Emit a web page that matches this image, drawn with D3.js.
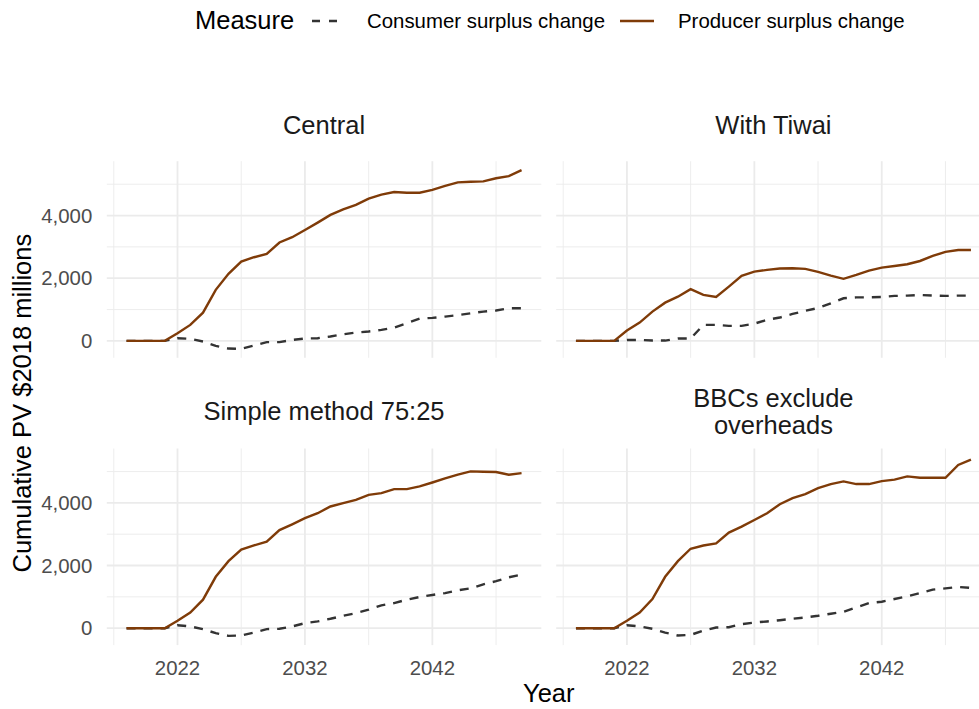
<!DOCTYPE html>
<html>
<head>
<meta charset="utf-8">
<script src="https://cdn.jsdelivr.net/npm/d3@7"></script>
<style>
  html, body { margin: 0; padding: 0; background: #ffffff; }
  svg { display: block; font-family: "Liberation Sans", Arial, sans-serif; }
</style>
</head>
<body>
<svg id="chart" width="979" height="709"></svg>
<script>
// Years shared by every scenario
const years = [2018, 2019, 2020, 2021, 2022, 2023, 2024, 2025, 2026, 2027,
               2028, 2029, 2030, 2031, 2032, 2033, 2034, 2035, 2036, 2037,
               2038, 2039, 2040, 2041, 2042, 2043, 2044, 2045, 2046, 2047,
               2048, 2049];

// Scenario (facet) titles, split into strip lines
const scenarios = ["Central", "With Tiwai", "Simple method 75:25", "BBCs exclude overheads"];
const stripLines = [["Central"], ["With Tiwai"], ["Simple method 75:25"], ["BBCs exclude", "overheads"]];

// Measures
const measures = ["Consumer surplus change", "Producer surplus change"];

// Cumulative PV, $2018 millions — consumer surplus change
const consumerCentral = [0, 0, 0, 0, 85, 65, -20, -160, -245, -255,
                         -150, -40, -40, 30, 75, 85, 140, 210, 265, 300,
                         350, 425, 565, 710, 735, 775, 820, 880, 935, 970,
                         1040, 1040];
const consumerTiwai = [0, 0, 0, 0, 30, 30, 10, 10, 75, 75,
                       510, 510, 480, 480, 550, 670, 745, 860, 960, 1050,
                       1200, 1360, 1390, 1390, 1400, 1435, 1445, 1465, 1445, 1435,
                       1445, 1445];
const consumerSimple = [0, 0, 0, 0, 95, 55, -30, -160, -245, -235,
                        -140, -30, -20, 55, 160, 215, 300, 395, 480, 590,
                        730, 800, 910, 995, 1060, 1120, 1210, 1270, 1400, 1500,
                        1625, 1710];
const consumerBBC = [0, 0, 0, 0, 95, 55, -20, -140, -235, -215,
                     -75, 20, 30, 130, 180, 215, 255, 300, 340, 395,
                     460, 525, 665, 800, 845, 930, 1015, 1120, 1230, 1270,
                     1315, 1285];

// Cumulative PV, $2018 millions — producer surplus change
const producerCentral = [0, 0, 0, 0, 245, 510, 900, 1630, 2140, 2530,
                         2670, 2775, 3140, 3310, 3540, 3775, 4020, 4200, 4340, 4540,
                         4670, 4750, 4730, 4730, 4820, 4945, 5060, 5080, 5090, 5190,
                         5260, 5450];
const producerTiwai = [0, 0, 0, 0, 330, 585, 935, 1220, 1410, 1650,
                       1470, 1400, 1730, 2075, 2210, 2265, 2310, 2320, 2300, 2200,
                       2085, 1980, 2105, 2245, 2340, 2390, 2445, 2550, 2710, 2840,
                       2900, 2900];
const producerSimple = [0, 0, 0, 0, 235, 500, 910, 1640, 2140, 2510,
                        2640, 2760, 3130, 3315, 3510, 3670, 3885, 3990, 4095, 4255,
                        4310, 4440, 4440, 4525, 4650, 4780, 4900, 5005, 4995, 4985,
                        4900, 4950];
const producerBBC = [0, 0, 0, 0, 235, 500, 930, 1640, 2140, 2535,
                     2640, 2705, 3050, 3240, 3455, 3670, 3955, 4150, 4280, 4470,
                     4600, 4685, 4600, 4600, 4695, 4740, 4845, 4800, 4800, 4800,
                     5210, 5380];

// Axis breaks
const xBreaks = [2022, 2032, 2042];
const xMinorBreaks = [2017, 2027, 2037, 2047];
const yBreaks = [0, 2000, 4000];
const yMinorBreaks = [1000, 3000, 5000];

const consumerSeries = [consumerCentral, consumerTiwai, consumerSimple, consumerBBC];
const producerSeries = [producerCentral, producerTiwai, producerSimple, producerBBC];

const colors = { consumer: "#333333", producer: "#7f3b08" };

const svg = d3.select("#chart");

// Facet layout (2 x 2, shared scales)
const panelW = 434.5;
const panelLefts = [106.8, 556.2];
const panelTops = [161.2, 448.5];
const panelH = 196.6;

// Shared scales with 5% expansion on both axes
const xExt = d3.extent(years);
const xPad = (xExt[1] - xExt[0]) * 0.05;
const allVals = consumerSeries.concat(producerSeries).flat();
const yExt = d3.extent(allVals);
const yPad = (yExt[1] - yExt[0]) * 0.05;

const x = d3.scaleLinear().domain([xExt[0] - xPad, xExt[1] + xPad]).range([0, panelW]);
const y = d3.scaleLinear().domain([yExt[0] - yPad, yExt[1] + yPad]).range([panelH, 0]);

const fmt = d3.format(",");

scenarios.forEach((name, i) => {
  const col = i % 2, row = Math.floor(i / 2);
  const g = svg.append("g")
    .attr("transform", `translate(${panelLefts[col]},${panelTops[row]})`);

  // minor grid
  g.selectAll(".gx-minor").data(xMinorBreaks).join("line")
    .attr("x1", d => x(d)).attr("x2", d => x(d))
    .attr("y1", 0).attr("y2", panelH)
    .attr("stroke", "#ebebeb").attr("stroke-width", 0.9);
  g.selectAll(".gy-minor").data(yMinorBreaks).join("line")
    .attr("x1", 0).attr("x2", panelW)
    .attr("y1", d => y(d)).attr("y2", d => y(d))
    .attr("stroke", "#ebebeb").attr("stroke-width", 0.9);
  // major grid
  g.selectAll(".gx-major").data(xBreaks).join("line")
    .attr("x1", d => x(d)).attr("x2", d => x(d))
    .attr("y1", 0).attr("y2", panelH)
    .attr("stroke", "#ebebeb").attr("stroke-width", 1.8);
  g.selectAll(".gy-major").data(yBreaks).join("line")
    .attr("x1", 0).attr("x2", panelW)
    .attr("y1", d => y(d)).attr("y2", d => y(d))
    .attr("stroke", "#ebebeb").attr("stroke-width", 1.8);

  const line = d3.line().x((d, k) => x(years[k])).y(d => y(d));

  g.append("path").datum(consumerSeries[i])
    .attr("d", line)
    .attr("fill", "none")
    .attr("stroke", colors.consumer)
    .attr("stroke-width", 2.4)
    .attr("stroke-dasharray", "9,8");

  g.append("path").datum(producerSeries[i])
    .attr("d", line)
    .attr("fill", "none")
    .attr("stroke", colors.producer)
    .attr("stroke-width", 2.4);

  // strip title
  const lines = stripLines[i];
  const strip = g.append("text")
    .attr("text-anchor", "middle")
    .attr("font-size", 25.5)
    .attr("fill", "#1a1a1a");
  const baseY = lines.length === 1 ? (row === 0 ? -27 : -28.5) : -42;
  lines.forEach((t, k) => {
    strip.append("tspan").attr("x", panelW / 2).attr("y", baseY + k * 27).text(t);
  });

  // y tick labels on left column
  if (col === 0) {
    g.selectAll(".ylab").data(yBreaks).join("text")
      .attr("x", -14.5).attr("y", d => y(d))
      .attr("dy", "0.35em")
      .attr("text-anchor", "end")
      .attr("font-size", 20.4)
      .attr("fill", "#4d4d4d")
      .text(d => fmt(d));
  }
  // x tick labels on bottom row
  if (row === 1) {
    g.selectAll(".xlab").data(xBreaks).join("text")
      .attr("x", d => x(d)).attr("y", panelH + 30)
      .attr("text-anchor", "middle")
      .attr("font-size", 20.4)
      .attr("fill", "#4d4d4d")
      .text(d => d);
  }
});

// Axis titles
svg.append("text")
  .attr("x", (panelLefts[0] + panelLefts[1] + panelW) / 2)
  .attr("y", 702)
  .attr("text-anchor", "middle")
  .attr("font-size", 25.5)
  .attr("fill", "#000")
  .text("Year");

svg.append("text")
  .attr("transform", `translate(31,${(panelTops[0] + panelTops[1] + panelH) / 2}) rotate(-90)`)
  .attr("text-anchor", "middle")
  .attr("font-size", 25.5)
  .attr("fill", "#000")
  .text("Cumulative PV $2018 millions");

// Legend
const legend = svg.append("g");
legend.append("text")
  .attr("x", 195).attr("y", 28.5)
  .attr("font-size", 25.5).attr("fill", "#000")
  .text("Measure");

const keyItems = [
  { label: measures[0], x0: 312, color: colors.consumer, dash: "8,9", tx: 367 },
  { label: measures[1], x0: 620, color: colors.producer, dash: null, tx: 678 }
];
keyItems.forEach(k => {
  legend.append("line")
    .attr("x1", k.x0).attr("x2", k.x0 + 34)
    .attr("y1", 21).attr("y2", 21)
    .attr("stroke", k.color).attr("stroke-width", 2.4)
    .attr("stroke-dasharray", k.dash);
  legend.append("text")
    .attr("x", k.tx).attr("y", 28)
    .attr("font-size", 20.4).attr("fill", "#000")
    .text(k.label);
});
</script>
</body>
</html>
